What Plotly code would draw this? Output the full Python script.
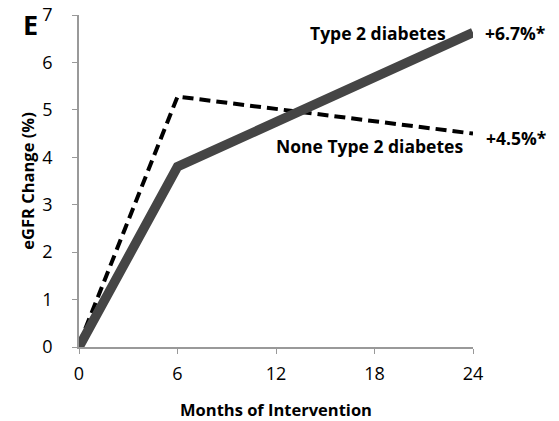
import plotly.graph_objects as go

months = [0, 6, 24]
type2_change = [0, 3.8, 6.63]
none_type2_change = [0.05, 5.28, 4.5]
x_ticks = [0, 6, 12, 18, 24]
y_ticks = [0, 1, 2, 3, 4, 5, 6, 7]

FONT = "Open Sans"

fig = go.Figure()

# dashed: non diabetic group
fig.add_trace(go.Scatter(
    x=months, y=none_type2_change, mode='lines',
    line=dict(color='black', width=4, dash='11px,6px'),
    showlegend=False,
))

# thick solid: type 2 diabetes group
fig.add_trace(go.Scatter(
    x=months, y=type2_change, mode='lines',
    line=dict(color='#454545', width=9.5),
    showlegend=False,
))

fig.update_layout(
    width=559, height=421,
    margin=dict(l=79, r=86, t=15, b=74),
    plot_bgcolor='white', paper_bgcolor='white',
    font=dict(family=FONT, color='black'),
    xaxis=dict(
        range=[0, 24], tickvals=x_ticks, showgrid=False, zeroline=False,
        showline=True, linecolor='#999999', linewidth=1.5,
        ticks='outside', ticklen=5, tickcolor='#999999', automargin=False,
        tickfont=dict(size=18, family=FONT), ticklabelstandoff=5,
        title=dict(text='<b>Months of Intervention</b>', font=dict(size=16.5, family=FONT), standoff=21),
    ),
    yaxis=dict(
        range=[0, 7], tickvals=y_ticks, showgrid=False, zeroline=False,
        showline=True, linecolor='#999999', linewidth=1.5,
        ticks='outside', ticklen=5, tickcolor='#999999', automargin=False,
        tickfont=dict(size=18, family=FONT), ticklabelstandoff=16,
        title=dict(text='<b>eGFR Change (%)</b>', font=dict(size=16.5, family=FONT), standoff=4),
    ),
)

fig.add_annotation(x=0, y=1, xref='paper', yref='paper', xanchor='center', yanchor='middle',
                   text='<b>E</b>', showarrow=False, font=dict(size=27, family=FONT), xshift=-49, yshift=-9)
fig.add_annotation(x=24, y=6.63, xanchor='right', yanchor='middle', xshift=-25,
                   text='<b>Type 2 diabetes</b>', showarrow=False, font=dict(size=17.5, family=FONT))
fig.add_annotation(x=24, y=6.63, xanchor='left', yanchor='middle', xshift=10,
                   text='<b>+6.7%*</b>', showarrow=False, font=dict(size=17.5, family=FONT))
fig.add_annotation(x=24, y=4.23, xanchor='right', yanchor='middle', xshift=-8,
                   text='<b>None Type 2 diabetes</b>', showarrow=False, font=dict(size=17.5, family=FONT))
fig.add_annotation(x=24, y=4.41, xanchor='left', yanchor='middle', xshift=11,
                   text='<b>+4.5%*</b>', showarrow=False, font=dict(size=17.5, family=FONT))

# drop the default 8px body margin so the figure fills the window exactly
fig.write_html("out.html", config={'displayModeBar': False},
               post_script="document.body.style.margin='0';")
